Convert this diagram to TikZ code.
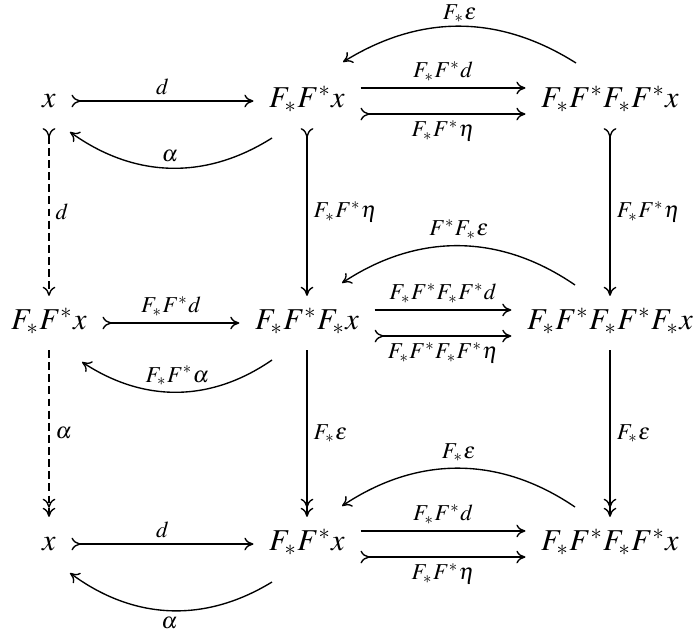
\documentclass[tikz,border=0pt]{standalone}
\usepackage{mathptmx}
\usetikzlibrary{arrows.meta,calc}

\begin{document}
\begin{tikzpicture}[
  x=0.33pt, y=0.33pt, >={To[length=3pt,width=4.2pt]},
  ob/.style={inner xsep=5pt, inner ysep=4pt, text height=7pt, text depth=2.5pt,
             font=\fontsize{10}{12}\selectfont},
  lab/.style={font=\fontsize{7.5}{9}\selectfont, inner sep=2pt},
  a/.style={->, line width=0.45pt},
  mono/.style={{To[reversed,length=3pt,width=4.2pt]}->, line width=0.45pt},
  epi/.style={->>, line width=0.45pt},
  dsh/.style={dash pattern=on 2.6pt off 1.4pt},
]
\useasboundingbox (0,0) rectangle (697,-634);
% objects
\node[ob] (a1) at (49,-101) {$x$};
\node[ob] (b1) at (307,-101) {$F_*F^*x$};
\node[ob] (c1) at (610,-101) {$F_*F^*F_*F^*x$};
\node[ob] (a2) at (49,-323) {$F_*F^*x$};
\node[ob] (b2) at (307,-323) {$F_*F^*F_*x$};
\node[ob] (c2) at (610,-323) {$F_*F^*F_*F^*F_*x$};
\node[ob] (a3) at (49,-544) {$x$};
\node[ob] (b3) at (307,-544) {$F_*F^*x$};
\node[ob] (c3) at (610,-544) {$F_*F^*F_*F^*x$};

% top row
\draw[mono] (a1) -- node[lab,above] {$d$} (b1);
\draw[a] ([yshift=4.3pt]b1.east) -- node[lab,above] {$F_*F^*d$} ([yshift=4.3pt]c1.west);
\draw[mono] ([yshift=-4.3pt]b1.east) -- node[lab,below] {$F_*F^*\eta$} ([yshift=-4.3pt]c1.west);
\draw[a] ($(b1)+(-35,-37)$) to[bend left=34] node[lab,above] {$\alpha$} ($(a1)+(21,-31)$);
\draw[a] ($(c1)+(-34,38)$) to[bend right=32] node[lab,above,inner sep=1pt] {$F_*\varepsilon$} ($(b1)+(36,39)$);

% middle row
\draw[mono] (a2) -- node[lab,above] {$F_*F^*d$} (b2);
\draw[a] ([yshift=4.3pt]b2.east) -- node[lab,above] {$F_*F^*F_*F^*d$} ([yshift=4.3pt]c2.west);
\draw[mono] ([yshift=-4.3pt]b2.east) -- node[lab,below] {$F_*F^*F_*F^*\eta$} ([yshift=-4.3pt]c2.west);
\draw[a] ($(b2)+(-35,-37)$) to[bend left=34] node[lab,above] {$F_*F^*\alpha$} ($(a2)+(33,-39)$);
\draw[a] ($(c2)+(-35,38)$) to[bend right=34] node[lab,above] {$F^*F_*\varepsilon$} ($(b2)+(35,40)$);

% bottom row
\draw[mono] (a3) -- node[lab,above] {$d$} (b3);
\draw[a] ([yshift=4.3pt]b3.east) -- node[lab,above] {$F_*F^*d$} ([yshift=4.3pt]c3.west);
\draw[mono] ([yshift=-4.3pt]b3.east) -- node[lab,below] {$F_*F^*\eta$} ([yshift=-4.3pt]c3.west);
\draw[a] ($(b3)+(-35,-38)$) to[bend left=34] node[lab,below] {$\alpha$} ($(a3)+(21,-29)$);
\draw[a] ($(c3)+(-35,37)$) to[bend right=34] node[lab,above] {$F_*\varepsilon$} ($(b3)+(35,38)$);

% columns
\draw[mono, dsh] (a1) -- node[lab,right] {$d$} (a2);
\draw[epi, dsh] (a2) -- node[lab,right] {$\alpha$} (a3);
\draw[mono] (b1) -- node[lab,right] {$F_*F^*\eta$} (b2);
\draw[epi] (b2) -- node[lab,right] {$F_*\varepsilon$} (b3);
\draw[mono] (c1) -- node[lab,right] {$F_*F^*\eta$} (c2);
\draw[epi] (c2) -- node[lab,right] {$F_*\varepsilon$} (c3);
\end{tikzpicture}
\end{document}
